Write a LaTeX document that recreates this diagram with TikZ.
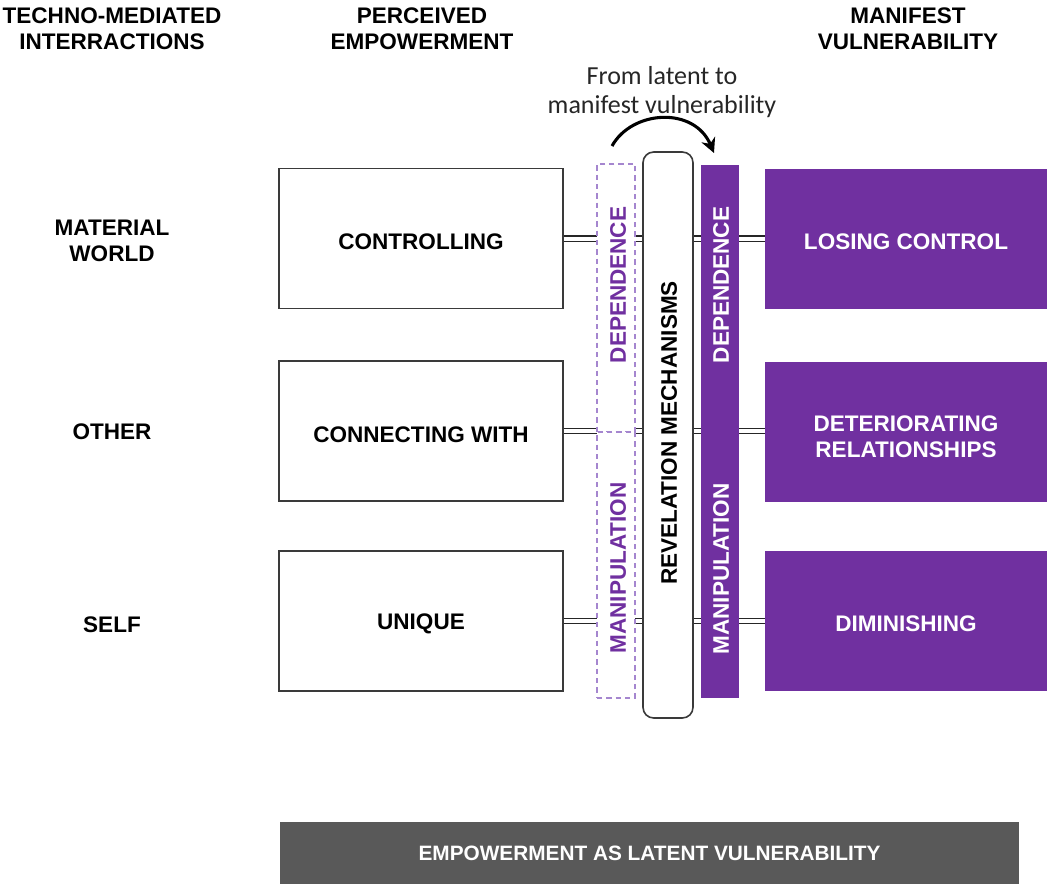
\documentclass[tikz,border=0pt]{standalone}
\usepackage{fontspec}
\setmainfont{Liberation Sans}
\newfontfamily\annotfont{Carlito}
\usetikzlibrary{arrows.meta}
\definecolor{vpurple}{HTML}{7030A0}
\definecolor{dpurple}{HTML}{A586CF}
\definecolor{dgray}{HTML}{595959}
\definecolor{bordergray}{HTML}{3A3A3A}
\begin{document}
\begin{tikzpicture}[x=0.75pt,y=-0.75pt,
  bfont/.style={font=\bfseries\fontsize{16.9}{19.6}\selectfont},
  hdr/.style={bfont, align=center, text=black, inner sep=0pt},
  lbox/.style={draw=bordergray, line width=1.2pt, fill=white,
    minimum width=284*0.75pt, minimum height=140*0.75pt, inner sep=0pt},
  pbox/.style={fill=vpurple, minimum width=282*0.75pt, minimum height=140*0.75pt, inner sep=0pt},
  btext/.style={bfont, align=center, inner sep=0pt},
  dbox/.style={draw=dpurple, dashed, dash pattern=on 4pt off 3pt, line width=1pt, fill=white,
    minimum width=38*0.75pt, inner sep=0pt},
  bar/.style={fill=vpurple, minimum width=38*0.75pt, inner sep=0pt},
  revbox/.style={draw=bordergray, line width=1.2pt, fill=white, rounded corners=8pt,
    minimum width=50*0.75pt, minimum height=566*0.75pt, inner sep=0pt},
  vtext/.style={bfont, rotate=90, inner sep=0pt},
  conn/.style={draw=black!85, line width=1.1pt, double=white, double distance=3pt},
  annot/.style={font=\annotfont\fontsize{19.5}{22}\selectfont, text=black!85, align=center, inner sep=0pt},
  bigarrow/.style={line width=2.3pt, -{Stealth[length=11pt,width=11pt]}},
  botbar/.style={fill=dgray, text=white, minimum width=739*0.75pt, minimum height=62*0.75pt,
    font=\bfseries\fontsize{15.6}{18}\selectfont, inner sep=0pt}
]
\useasboundingbox (0,0) rectangle (1049,886);

% headers
\node[hdr] (h1) at (112,28.5) {TECHNO-MEDIATED\\INTERRACTIONS};
\node[hdr] (h2) at (422,28.5) {PERCEIVED\\EMPOWERMENT};
\node[hdr] (h3) at (908,28.5) {MANIFEST\\VULNERABILITY};

% row labels
\node[hdr] (r1) at (112,241) {MATERIAL\\WORLD};
\node[hdr] (r2) at (112,432) {OTHER};
\node[hdr] (r3) at (112,625) {SELF};

% left boxes
\node[lbox] (b1) at (421,238.5) {};
\node[lbox] (b2) at (421,431) {};
\node[lbox] (b3) at (421,621) {};
\node[btext, text=black] (tb1) at (421,241.5) {CONTROLLING};
\node[btext, text=black] (tb2) at (421,434.5) {CONNECTING WITH};
\node[btext, text=black] (tb3) at (421,624) {UNIQUE};

% purple boxes
\node[pbox] (p1) at (906,239) {};
\node[pbox] (p2) at (906,431.5) {};
\node[pbox] (p3) at (906,621) {};
\node[btext, text=white] (tp1) at (906,242) {LOSING CONTROL};
\node[btext, text=white] (tp2) at (906,437) {DETERIORATING\\RELATIONSHIPS};
\node[btext, text=white] (tp3) at (906,624) {DIMINISHING};

% connectors
\draw[conn] (b1.east) -- (b1.east -| p1.west);
\draw[conn] (b2.east) -- (b2.east -| p2.west);
\draw[conn] (b3.east) -- (b3.east -| p3.west);

% dashed latent boxes
\node[dbox, minimum height=268*0.75pt] (dA) at (616,298) {};
\node[dbox, minimum height=266*0.75pt] (dB) at (616,565) {};
\node[vtext, text=vpurple] (tdA) at (618,285) {DEPENDENCE};
\node[vtext, text=vpurple] (tdB) at (618,568) {MANIPULATION};

% revelation mechanisms
\node[revbox] (rev) at (668,435) {};
\node[vtext, text=black] (trev) at (669,433) {REVELATION MECHANISMS};

% manifest bars
\node[bar, minimum height=266*0.75pt] (barA) at (720,298) {};
\node[bar, minimum height=267*0.75pt] (barB) at (720,564.5) {};
\node[vtext, text=white] (tbA) at (721,285) {DEPENDENCE};
\node[vtext, text=white] (tbB) at (721,569) {MANIPULATION};

% curved arrow and label
\node[annot] (lab) at (662,92) {From latent to\\manifest vulnerability};
\coordinate (arS) at (612,146);
\coordinate (arE) at (714,153);
\draw[bigarrow] (arS) .. controls (632,110) and (694,106) .. (arE);

% bottom bar
\node[botbar] (bot) at (649.5,853) {EMPOWERMENT AS LATENT VULNERABILITY};
\end{tikzpicture}
\end{document}
